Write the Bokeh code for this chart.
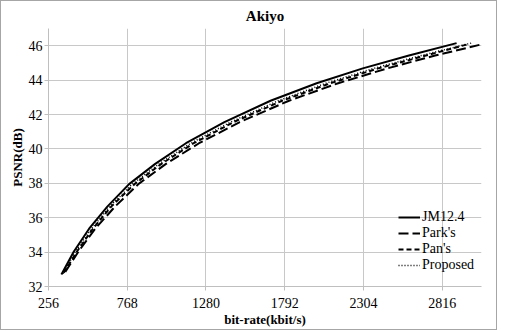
from bokeh.plotting import figure
from bokeh.models import Range1d, FixedTicker
from bokeh.embed import file_html
from bokeh.resources import INLINE

title_text = "Akiyo"
x_label = "bit-rate(kbit/s)"
y_label = "PSNR(dB)"
x_ticks = [256, 768, 1280, 1792, 2304, 2816]
y_ticks = [32, 34, 36, 38, 40, 42, 44, 46]

jm_rate = [340, 420, 520, 640, 780, 950, 1150, 1400, 1700, 2000, 2300, 2600, 2910]
jm_psnr = [32.70, 34.02, 35.36, 36.66, 37.95, 39.13, 40.33, 41.56, 42.80, 43.82, 44.68, 45.43, 46.15]

park_rate = [365, 450, 560, 690, 840, 1020, 1235, 1500, 1820, 2140, 2460, 2770, 3060]
park_psnr = [32.85, 34.02, 35.36, 36.66, 37.95, 39.13, 40.33, 41.56, 42.80, 43.82, 44.68, 45.43, 46.05]

pan_rate = [355, 440, 545, 665, 815, 990, 1200, 1460, 1775, 2090, 2400, 2710, 2990]
pan_psnr = [32.80, 34.02, 35.36, 36.66, 37.95, 39.13, 40.33, 41.56, 42.80, 43.82, 44.68, 45.43, 46.10]

prop_rate = [350, 430, 535, 655, 800, 975, 1180, 1440, 1750, 2060, 2370, 2680, 3005]
prop_psnr = [32.75, 34.02, 35.36, 36.66, 37.95, 39.13, 40.33, 41.56, 42.80, 43.82, 44.68, 45.43, 46.15]

FONT = "'Liberation Serif', 'Times New Roman', serif"

p = figure(frame_width=433, frame_height=258, output_backend="svg", toolbar_location=None,
           x_range=Range1d(256, 3072), y_range=Range1d(32, 47),
           min_border_left=47, min_border_right=15, min_border_top=21, min_border_bottom=42)
p.styles = {"border": "1px solid #a6a6a6"}
p.outline_line_color = None
p.background_fill_color = "white"
p.border_fill_color = "white"

p.title.text = title_text
p.title.align = "center"
p.title.text_font = FONT
p.title.text_font_style = "bold"
p.title.text_font_size = "15px"
p.title.text_color = "black"
p.title.standoff = 9
p.title.offset = 0

for ax, ticks in ((p.xaxis[0], x_ticks), (p.yaxis[0], y_ticks)):
    ax.ticker = FixedTicker(ticks=ticks)
    ax.minor_tick_line_color = None
    ax.major_tick_out = 4
    ax.major_tick_in = 0
    ax.axis_line_color = "#bfbfbf"
    ax.major_tick_line_color = "#bfbfbf"
    ax.major_label_text_font = FONT
    ax.major_label_text_font_size = "14px"
    ax.major_label_text_color = "black"
    ax.axis_label_text_font = FONT
    ax.axis_label_text_font_style = "bold"
    ax.axis_label_text_font_size = "13px"
    ax.axis_label_text_color = "black"
p.xaxis.axis_label = x_label
p.yaxis.axis_label = y_label
p.xaxis.major_label_standoff = 7
p.xaxis.axis_label_standoff = 1
p.yaxis.major_label_standoff = 2
p.yaxis.axis_label_standoff = 1

p.xgrid.ticker = FixedTicker(ticks=x_ticks)
p.ygrid.ticker = FixedTicker(ticks=y_ticks)
p.grid.grid_line_color = "#c8c8c8"
p.grid.grid_line_width = 1

p.line(jm_rate, jm_psnr, line_color="black", line_width=2, legend_label="JM12.4")
p.line(park_rate, park_psnr, line_color="black", line_width=2, line_dash="10 4", legend_label="Park's")
p.line(pan_rate, pan_psnr, line_color="black", line_width=2, line_dash="5 3", legend_label="Pan's")
p.line(prop_rate, prop_psnr, line_color="black", line_width=1.5, line_dash="1 2", legend_label="Proposed")

lg = p.legend[0]
lg.location = (350, 13)
lg.background_fill_alpha = 0
lg.border_line_alpha = 0
lg.padding = 0
lg.margin = 0
lg.spacing = 0
lg.glyph_width = 22
lg.glyph_height = 16
lg.label_height = 16
lg.label_standoff = 2
lg.label_text_font = FONT
lg.label_text_font_size = "14px"
lg.label_text_color = "black"

open("out.html", "w").write(file_html(p, INLINE))
